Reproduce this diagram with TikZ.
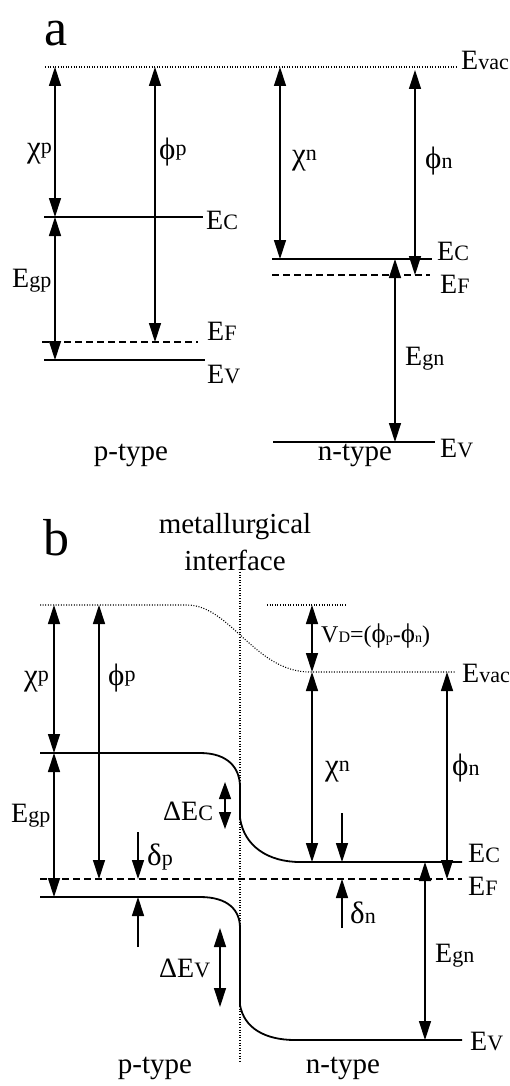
\documentclass[tikz,border=0pt]{standalone}
\usepackage{fontspec}
\setmainfont{Liberation Serif}
\usetikzlibrary{arrows.meta}
\newcommand\sbx[1]{{\fontsize{22}{22}\selectfont #1}}
\newcommand\gr[1]{{\fontsize{31}{31}\selectfont #1}}
\tikzset{
  level/.style={line width=1.8pt},
  flevel/.style={line width=1.6pt, dash pattern=on 7pt off 4pt},
  vac/.style={line width=1.1pt, dash pattern=on 1pt off 1.6pt},
  dim/.style={line width=1.3pt, {Triangle[length=19pt,width=12pt]}-{Triangle[length=19pt,width=12pt]}},
  sdim/.style={line width=1.3pt, {Triangle[length=17pt,width=12pt]}-{Triangle[length=17pt,width=12pt]}},
  one/.style={line width=1.3pt, -{Triangle[length=19pt,width=12pt]}},
  lbl/.style={font=\fontsize{28}{30}\selectfont, inner sep=0pt, anchor=base west},
  ttl/.style={font=\fontsize{29}{33}\selectfont, inner sep=0pt, anchor=base},
  big/.style={font=\fontsize{52}{52}\selectfont, inner sep=0pt, anchor=base west}
}
\begin{document}
\begin{tikzpicture}[x=1pt,y=-1pt]
\useasboundingbox (0,0) rectangle (509,1086);
% ================= panel a =================
\node[big] (la) at (44,46) {a};
% levels
\coordinate (avacL) at (45,67); \coordinate (avacR) at (457,67);
\draw[vac] (avacL) -- (avacR);
\node[lbl] (aEvac) at (461,70) {E\sbx{vac}};
\draw[level] (44,217) coordinate (aEcpL) -- (203,217) coordinate (aEcpR);
\node[lbl] (aEcp) at (206,229) {E\sbx{C}};
\draw[flevel] (42,342) coordinate (aEFpL) -- (198,342) coordinate (aEFpR);
\node[lbl] (aEFp) at (207,340) {E\sbx{F}};
\draw[level] (44,360) coordinate (aEvpL) -- (205,360) coordinate (aEvpR);
\node[lbl] (aEvp) at (207,383) {E\sbx{V}};
\draw[level] (272,259) coordinate (aEcnL) -- (432,259) coordinate (aEcnR);
\node[lbl] (aEcn) at (437,260) {E\sbx{C}};
\draw[flevel] (272,275) coordinate (aEFnL) -- (430,275) coordinate (aEFnR);
\node[lbl] (aEFn) at (440,293) {E\sbx{F}};
\draw[level] (273,442) coordinate (aEvnL) -- (435,442) coordinate (aEvnR);
\node[lbl] (aEvn) at (440,457) {E\sbx{V}};
% arrows p
\coordinate (a1t) at (55,67); \coordinate (a1b) at (55,217);
\draw[dim] (a1t) -- (a1b);
\node[lbl] (achip) at (27,158) {\gr{χ}\raisebox{4pt}{\sbx{p}}};
\coordinate (a2t) at (155,67); \coordinate (a2b) at (155,342);
\draw[dim] (a2t) -- (a2b);
\node[lbl] (aphip) at (159,160) {\gr{ϕ}\raisebox{4pt}{\sbx{p}}};
\coordinate (a3t) at (55,217); \coordinate (a3b) at (55,360);
\draw[dim] (a3t) -- (a3b);
\node[lbl] (aEgp) at (12,287) {E\sbx{gp}};
% arrows n
\coordinate (a4t) at (280,67); \coordinate (a4b) at (280,259);
\draw[dim] (a4t) -- (a4b);
\node[lbl] (achin) at (292,165) {\gr{χ}\raisebox{4pt}{\sbx{n}}};
\coordinate (a5t) at (415,70); \coordinate (a5b) at (415,275);
\draw[dim] (a5t) -- (a5b);
\node[lbl] (aphin) at (425,168) {\gr{ϕ}\sbx{n}};
\coordinate (a6t) at (395,259); \coordinate (a6b) at (395,442);
\draw[dim] (a6t) -- (a6b);
\node[lbl] (aEgn) at (405,365) {E\sbx{gn}};
\node[ttl] (aptype) at (131,460) {p-type};
\node[ttl] (antype) at (355,460) {n-type};
% ================= panel b =================
\node[big] (lb) at (43,555) {b};
\node[ttl] (met) at (235,533) {metallurgical};
\node[ttl] (intf) at (235,570) {interface};
\coordinate (ifT) at (240,572); \coordinate (ifB) at (240,1062);
\draw[vac] (ifT) -- (ifB);
% vacuum level
\draw[vac] (40,605) coordinate (bvacL) -- (187,605)
  .. controls (230,605) and (255,672) .. (310,672) -- (455,672) coordinate (bvacR);
\draw[vac] (267,605) coordinate (vdL) -- (347,605) coordinate (vdR);
\node[lbl] (bEvac) at (462,682) {E\sbx{vac}};
% conduction band
\draw[level] (40,753) coordinate (bEcL) -- (200,753)
  .. controls (228,753) and (240,768) .. (240,787) -- (240,818)
  .. controls (244,846) and (268,862) .. (300,862) -- (462,862) coordinate (bEcR);
\node[lbl] (bEc) at (468,862) {E\sbx{C}};
% Fermi level
\draw[flevel] (40,879) coordinate (bEFL) -- (462,879) coordinate (bEFR);
\node[lbl] (bEF) at (468,895) {E\sbx{F}};
% valence band
\draw[level] (40,897) coordinate (bEvL) -- (200,897)
  .. controls (228,897) and (240,910) .. (240,928) -- (240,1005)
  .. controls (244,1028) and (265,1040) .. (295,1040) -- (462,1040) coordinate (bEvR);
\node[lbl] (bEv) at (470,1050) {E\sbx{V}};
% p side arrows
\coordinate (b1t) at (54,605); \coordinate (b1b) at (54,753);
\draw[dim] (b1t) -- (b1b);
\node[lbl] (bchip) at (24,685) {\gr{χ}\raisebox{4pt}{\sbx{p}}};
\coordinate (b2t) at (99,605); \coordinate (b2b) at (99,879);
\draw[dim] (b2t) -- (b2b);
\node[lbl] (bphip) at (108,685) {\gr{ϕ}\raisebox{4pt}{\sbx{p}}};
\coordinate (b3t) at (54,753); \coordinate (b3b) at (54,897);
\draw[dim] (b3t) -- (b3b);
\node[lbl] (bEgp) at (11,822) {E\sbx{gp}};
\coordinate (dp1s) at (138,832); \coordinate (dp1e) at (138,879);
\draw[one] (dp1s) -- (dp1e);
\coordinate (dp2s) at (138,947); \coordinate (dp2e) at (138,897);
\draw[one] (dp2s) -- (dp2e);
\node[lbl] (bdp) at (147,865) {\gr{δ}\sbx{p}};
\coordinate (dEct) at (225,782); \coordinate (dEcb) at (225,829);
\draw[sdim] (dEct) -- (dEcb);
\node[lbl] (bdEc) at (163,820) {ΔE\sbx{C}};
\coordinate (dEvt) at (220,928); \coordinate (dEvb) at (220,1007);
\draw[dim] (dEvt) -- (dEvb);
\node[lbl] (bdEv) at (159,977) {ΔE\sbx{V}};
% n side arrows
\coordinate (vdt) at (312,605); \coordinate (vdb) at (312,672);
\draw[dim] (vdt) -- (vdb);
\node[lbl, font=\fontsize{24}{26}\selectfont] (bVD) at (321,642) {V{\fontsize{16}{16}\selectfont D}=({\fontsize{27}{27}\selectfont ϕ}{\fontsize{14}{14}\selectfont p}-{\fontsize{27}{27}\selectfont ϕ}{\fontsize{14}{14}\selectfont n})};
\coordinate (b4t) at (312,672); \coordinate (b4b) at (312,862);
\draw[dim] (b4t) -- (b4b);
\node[lbl] (bchin) at (325,775) {\gr{χ}\raisebox{4pt}{\sbx{n}}};
\coordinate (dn1s) at (342,813); \coordinate (dn1e) at (342,862);
\draw[one] (dn1s) -- (dn1e);
\coordinate (dn2s) at (342,928); \coordinate (dn2e) at (342,879);
\draw[one] (dn2s) -- (dn2e);
\node[lbl] (bdn) at (350,923) {\gr{δ}\sbx{n}};
\coordinate (b5t) at (447,672); \coordinate (b5b) at (447,879);
\draw[dim] (b5t) -- (b5b);
\node[lbl] (bphin) at (452,775) {\gr{ϕ}\sbx{n}};
\coordinate (b6t) at (425,862); \coordinate (b6b) at (425,1040);
\draw[dim] (b6t) -- (b6b);
\node[lbl] (bEgn) at (435,962) {E\sbx{gn}};
\node[ttl] (bptype) at (155,1073) {p-type};
\node[ttl] (bntype) at (343,1073) {n-type};
\end{tikzpicture}
\end{document}
